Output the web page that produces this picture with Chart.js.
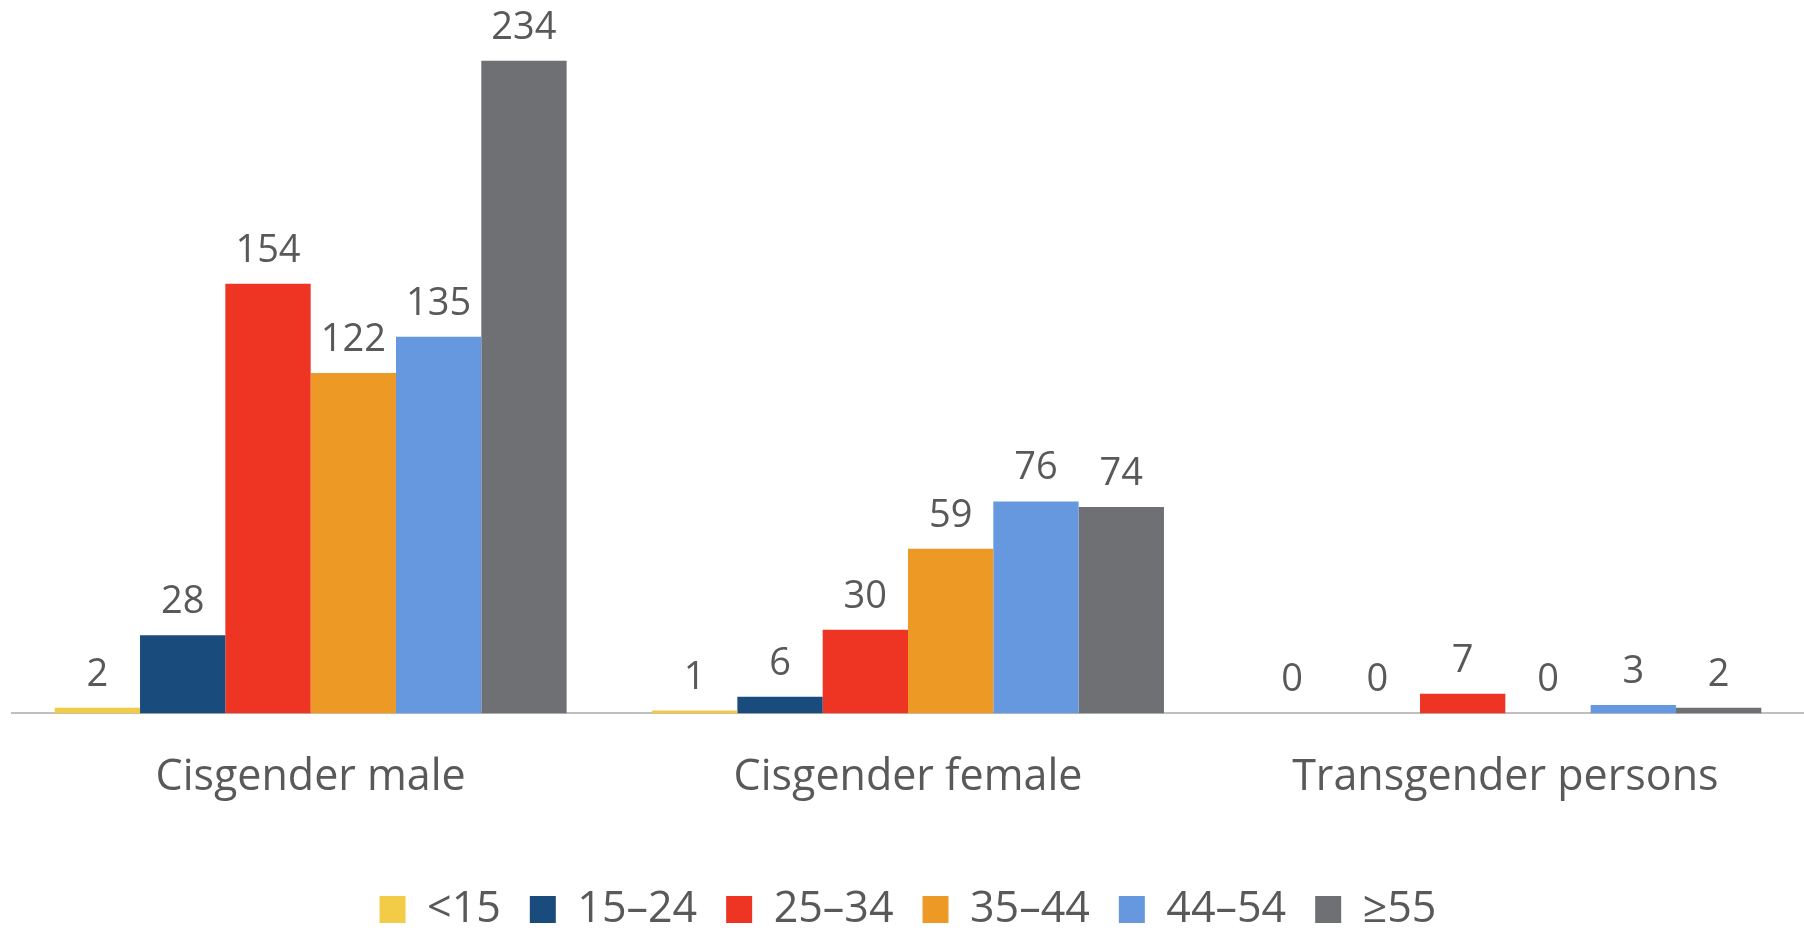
<!DOCTYPE html>
<html>
<head>
<meta charset="utf-8">
<script src="https://cdn.jsdelivr.net/npm/chart.js@4/dist/chart.umd.min.js"></script>
<style>
  html, body { margin: 0; padding: 0; background: #fff; }
  #wrap { width: 1804px; height: 928px; }
</style>
</head>
<body>
<div id="wrap"><canvas id="agechart" width="1804" height="928"></canvas></div>
<script>
const groups = ['Cisgender male', 'Cisgender female', 'Transgender persons'];
const ageBands = ['<15', '15–24', '25–34', '35–44', '44–54', '≥55'];
const under15 = [2, 1, 0];
const age15to24 = [28, 6, 0];
const age25to34 = [154, 30, 7];
const age35to44 = [122, 59, 0];
const age44to54 = [135, 76, 3];
const age55plus = [234, 74, 2];
const barColors = ['#F2CC46', '#1A4B7D', '#EE3524', '#EC9A25', '#6698DF', '#6F7074'];

const seriesValues = [under15, age15to24, age25to34, age35to44, age44to54, age55plus];
const textColor = '#595959';

// draws the value above each bar
const barValues = {
  id: 'barValues',
  afterDatasetsDraw(chart) {
    const c = chart.ctx;
    c.save();
    c.font = '38px "Open Sans"';
    c.fillStyle = textColor;
    c.textAlign = 'center';
    c.textBaseline = 'alphabetic';
    chart.data.datasets.forEach((ds, i) => {
      chart.getDatasetMeta(i).data.forEach((bar, j) => {
        c.fillText(String(ds.data[j]), bar.x, bar.y - 22);
      });
    });
    c.restore();
  }
};

const ctx = document.getElementById('agechart').getContext('2d');
new Chart(ctx, {
  type: 'bar',
  data: {
    labels: groups,
    datasets: ageBands.map((band, i) => ({
      label: band,
      data: seriesValues[i],
      backgroundColor: barColors[i],
      borderWidth: 0,
      barPercentage: 1,
      categoryPercentage: 0.857
    }))
  },
  options: {
    responsive: false,
    animation: false,
    layout: { padding: { top: 16, left: 12, right: 0, bottom: -13 } },
    plugins: {
      legend: {
        position: 'bottom',
        labels: {
          color: textColor,
          font: { family: 'Open Sans', size: 43 },
          boxWidth: 26,
          boxHeight: 27,
          padding: 29
        }
      },
      tooltip: { enabled: false }
    },
    scales: {
      x: {
        grid: { display: false },
        border: { display: true, color: '#BFBFBF', width: 2 },
        ticks: {
          color: textColor,
          font: { family: 'Open Sans', size: 43 },
          padding: 31
        },
        afterFit(scale) { scale.height += 24; }
      },
      y: {
        display: false,
        min: 0,
        max: 250
      }
    }
  },
  plugins: [barValues]
});
</script>
</body>
</html>
